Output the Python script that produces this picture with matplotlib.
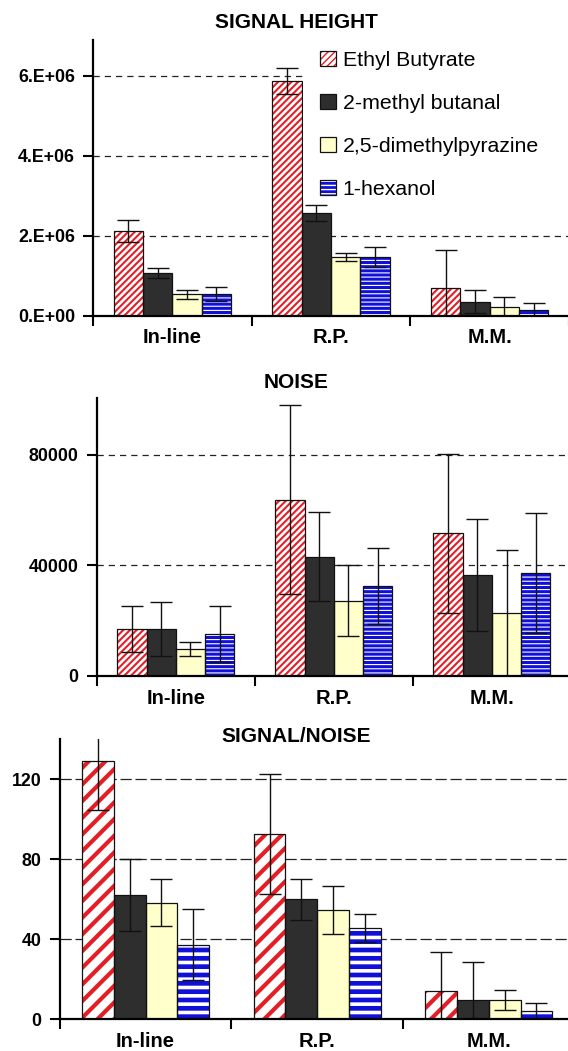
import matplotlib
matplotlib.use('Agg')
import matplotlib.pyplot as plt
from matplotlib.patches import Rectangle
import numpy as np

plt.rcParams['font.family'] = ['Liberation Sans', 'DejaVu Sans']

categories = ['In-line', 'R.P.', 'M.M.']
compounds = ['Ethyl Butyrate', '2-methyl butanal', '2,5-dimethylpyrazine', '1-hexanol']

# SIGNAL HEIGHT (means / std errors) per compound, per category
height_values = [[2.13e6, 5.875e6, 0.69e6],
                 [1.07e6, 2.57e6, 0.36e6],
                 [0.54e6, 1.48e6, 0.22e6],
                 [0.55e6, 1.48e6, 0.15e6]]
height_errors = [[0.28e6, 0.33e6, 0.96e6],
                 [0.12e6, 0.20e6, 0.29e6],
                 [0.12e6, 0.10e6, 0.26e6],
                 [0.18e6, 0.25e6, 0.17e6]]
height_ticks = [0, 2e6, 4e6, 6e6]
height_ticklabels = ['0.E+00', '2.E+06', '4.E+06', '6.E+06']

# NOISE
noise_values = [[17000, 63800, 51600],
                [17000, 43200, 36600],
                [9700, 27300, 22700],
                [15200, 32500, 37300]]
noise_errors = [[8200, 34300, 28700],
                [9900, 16000, 20200],
                [2500, 13000, 23000],
                [10000, 13700, 21700]]
noise_ticks = [0, 40000, 80000]
noise_ticklabels = ['0', '40000', '80000']

# SIGNAL/NOISE
sn_values = [[129.3, 92.7, 14.0],
             [62.0, 60.0, 9.7],
             [58.3, 54.7, 9.7],
             [37.3, 45.8, 4.3]]
sn_errors = [[24.7, 30.0, 19.7],
             [18.0, 10.3, 19.0],
             [11.7, 12.0, 5.0],
             [17.8, 7.0, 4.0]]
sn_ticks = [0, 40, 80, 120]
sn_ticklabels = ['0', '40', '80', '120']

RED = '#e41e26'
DARK = '#2e2e2e'
CREAM = '#ffffcc'
BLUE = '#1010d8'

W, H = 568, 1051
fig = plt.figure(figsize=(W / 100, H / 100), dpi=100)


def ax_rect(left, right, top, bottom):
    return [left / W, 1 - bottom / H, (right - left) / W, (bottom - top) / H]


def make_style(fine):
    if fine:
        return [
            dict(face='white', hatch='/////', hcolor=RED, hlw=1.5),
            dict(face=DARK, hatch=None, hcolor=DARK, hlw=1.0),
            dict(face=CREAM, hatch=None, hcolor=CREAM, hlw=1.0),
            dict(face=BLUE, hatch='----', hcolor='white', hlw=0.8),
        ]
    return [
        dict(face='white', hatch='//', hcolor=RED, hlw=3.0),
        dict(face=DARK, hatch=None, hcolor=DARK, hlw=1.0),
        dict(face=CREAM, hatch=None, hcolor=CREAM, hlw=1.0),
        dict(face=BLUE, hatch='--', hcolor='white', hlw=2.6),
    ]


def draw_panel(rect, values, errors, ylim, ticks, ticklabels, fine, dash):
    ax = fig.add_axes(rect)
    x = np.arange(len(categories))
    bw = 0.185
    styles = make_style(fine)
    handles = []
    for i, (vals, errs) in enumerate(zip(values, errors)):
        st = styles[i]
        xs = x + (i - 1.5) * bw
        with plt.rc_context({'hatch.linewidth': st['hlw']}):
            b1 = ax.bar(xs, vals, bw, color=st['face'], edgecolor=st['hcolor'],
                        hatch=st['hatch'], linewidth=0, zorder=2)
        for p in b1:
            if hasattr(p, 'set_hatch_linewidth'):
                p.set_hatch_linewidth(st['hlw'])
        b2 = ax.bar(xs, vals, bw, fill=False, edgecolor='#111111',
                    linewidth=0.9, zorder=3)
        ax.errorbar(xs, vals, yerr=errs, fmt='none', ecolor='#111111',
                    elinewidth=1.0, capsize=8, capthick=1.0, zorder=4)
        handles.append((b1[0], b2[0]))
    ax.set_xlim(-0.5, 2.5)
    ax.set_ylim(*ylim)
    ax.set_yticks(ticks)
    ax.set_yticklabels(ticklabels, fontweight='bold', fontsize=12.8)
    ax.set_xticks(x)
    ax.set_xticklabels(categories, fontweight='bold', fontsize=14.5)
    ax.set_xticks([-0.5, 0.5, 1.5, 2.5], minor=True)
    ax.tick_params(axis='x', which='major', length=0, pad=9)
    ax.tick_params(axis='x', which='minor', length=7, width=1.5, direction='out')
    ax.tick_params(axis='y', length=7, width=1.5, direction='out', pad=6)
    for s in ['top', 'right']:
        ax.spines[s].set_visible(False)
    for s in ['left', 'bottom']:
        ax.spines[s].set_linewidth(1.6)
        ax.spines[s].set_zorder(5)
    for t in ticks[1:]:
        ax.axhline(t, color='#222222', linewidth=0.9, linestyle=(0, dash), zorder=1)
    return ax, handles


ax1, handles = draw_panel(ax_rect(93, 569, 40, 316), height_values, height_errors,
                          (0, 6.9e6), height_ticks, height_ticklabels, True, (5, 4))
ax2, _ = draw_panel(ax_rect(96.7, 571, 398.3, 676), noise_values, noise_errors,
                    (0, 100500), noise_ticks, noise_ticklabels, True, (5, 4))
ax3, _ = draw_panel(ax_rect(59.8, 574.6, 739.3, 1019.3), sn_values, sn_errors,
                    (0, 140), sn_ticks, sn_ticklabels, False, (9, 3))

# white area behind the legend (hides the gridlines there, as in the original)
ax1.add_patch(Rectangle((0.441, (316 - 200) / 276), 0.6, 1.0, transform=ax1.transAxes,
                        facecolor='white', edgecolor='none', zorder=5.5, clip_on=False))

leg = ax1.legend(handles, compounds, loc='upper left', bbox_to_anchor=(0.445, 1.015),
                 fontsize=15.3, frameon=False, handlelength=0.75, handleheight=0.72,
                 handletextpad=0.33, labelspacing=1.13, borderpad=0.7,
                 borderaxespad=0.0)
leg.set_zorder(6)

for txt, y in [('SIGNAL HEIGHT', 22), ('NOISE', 382), ('SIGNAL/NOISE', 736)]:
    fig.text(296 / W, 1 - y / H, txt, ha='center', va='center',
             fontsize=15, fontweight='bold')

fig.savefig('out.png', dpi=100)
